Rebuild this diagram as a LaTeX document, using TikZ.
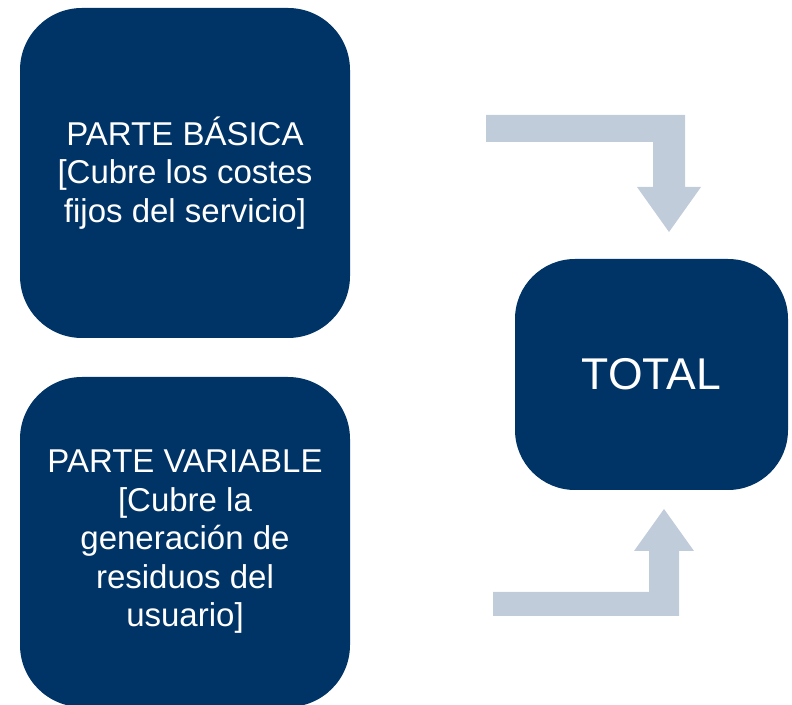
\documentclass[tikz,border=0pt]{standalone}
\usepackage{fontspec}
\setmainfont{Liberation Sans}
\usepackage{xcolor}
\definecolor{navy}{RGB}{0,51,102}
\definecolor{arrowgray}{RGB}{192,204,218}

\begin{document}
\begin{tikzpicture}[x=1pt,y=1pt,
    part/.style={fill=navy, text=white, rounded corners=62pt, align=center,
      minimum width=330pt, minimum height=330pt, inner sep=0pt,
      font=\fontsize{33}{38.5}\selectfont},
    total/.style={part, rounded corners=60pt, minimum width=273pt,
      minimum height=231pt, font=\fontsize{44.5}{50}\selectfont},
    elbowarrow/.style={fill=arrowgray}]
  \useasboundingbox (0,0) rectangle (792,704);

  % Parts
  \node[part] (basica) at (185,531) {PARTE BÁSICA\\{[Cubre los costes}\\fijos del servicio]};
  \node[part] (variable) at (185,162) {PARTE VARIABLE\\{[Cubre la}\\generación de\\residuos del\\usuario]};

  % Total
  \node[total] (total) at (651.5,329.5) {TOTAL};

  % Upper arrow
  \fill[elbowarrow] (486,589) -- (685,589) -- (685,517) -- (701,517) -- (669,472)
    -- (637,517) -- (653,517) -- (653,562) -- (486,562) -- cycle;

  % Lower arrow
  \fill[elbowarrow] (493,88) -- (679,88) -- (679,153) -- (694,153) -- (664,195)
    -- (634,153) -- (649,153) -- (649,112) -- (493,112) -- cycle;
\end{tikzpicture}
\end{document}
